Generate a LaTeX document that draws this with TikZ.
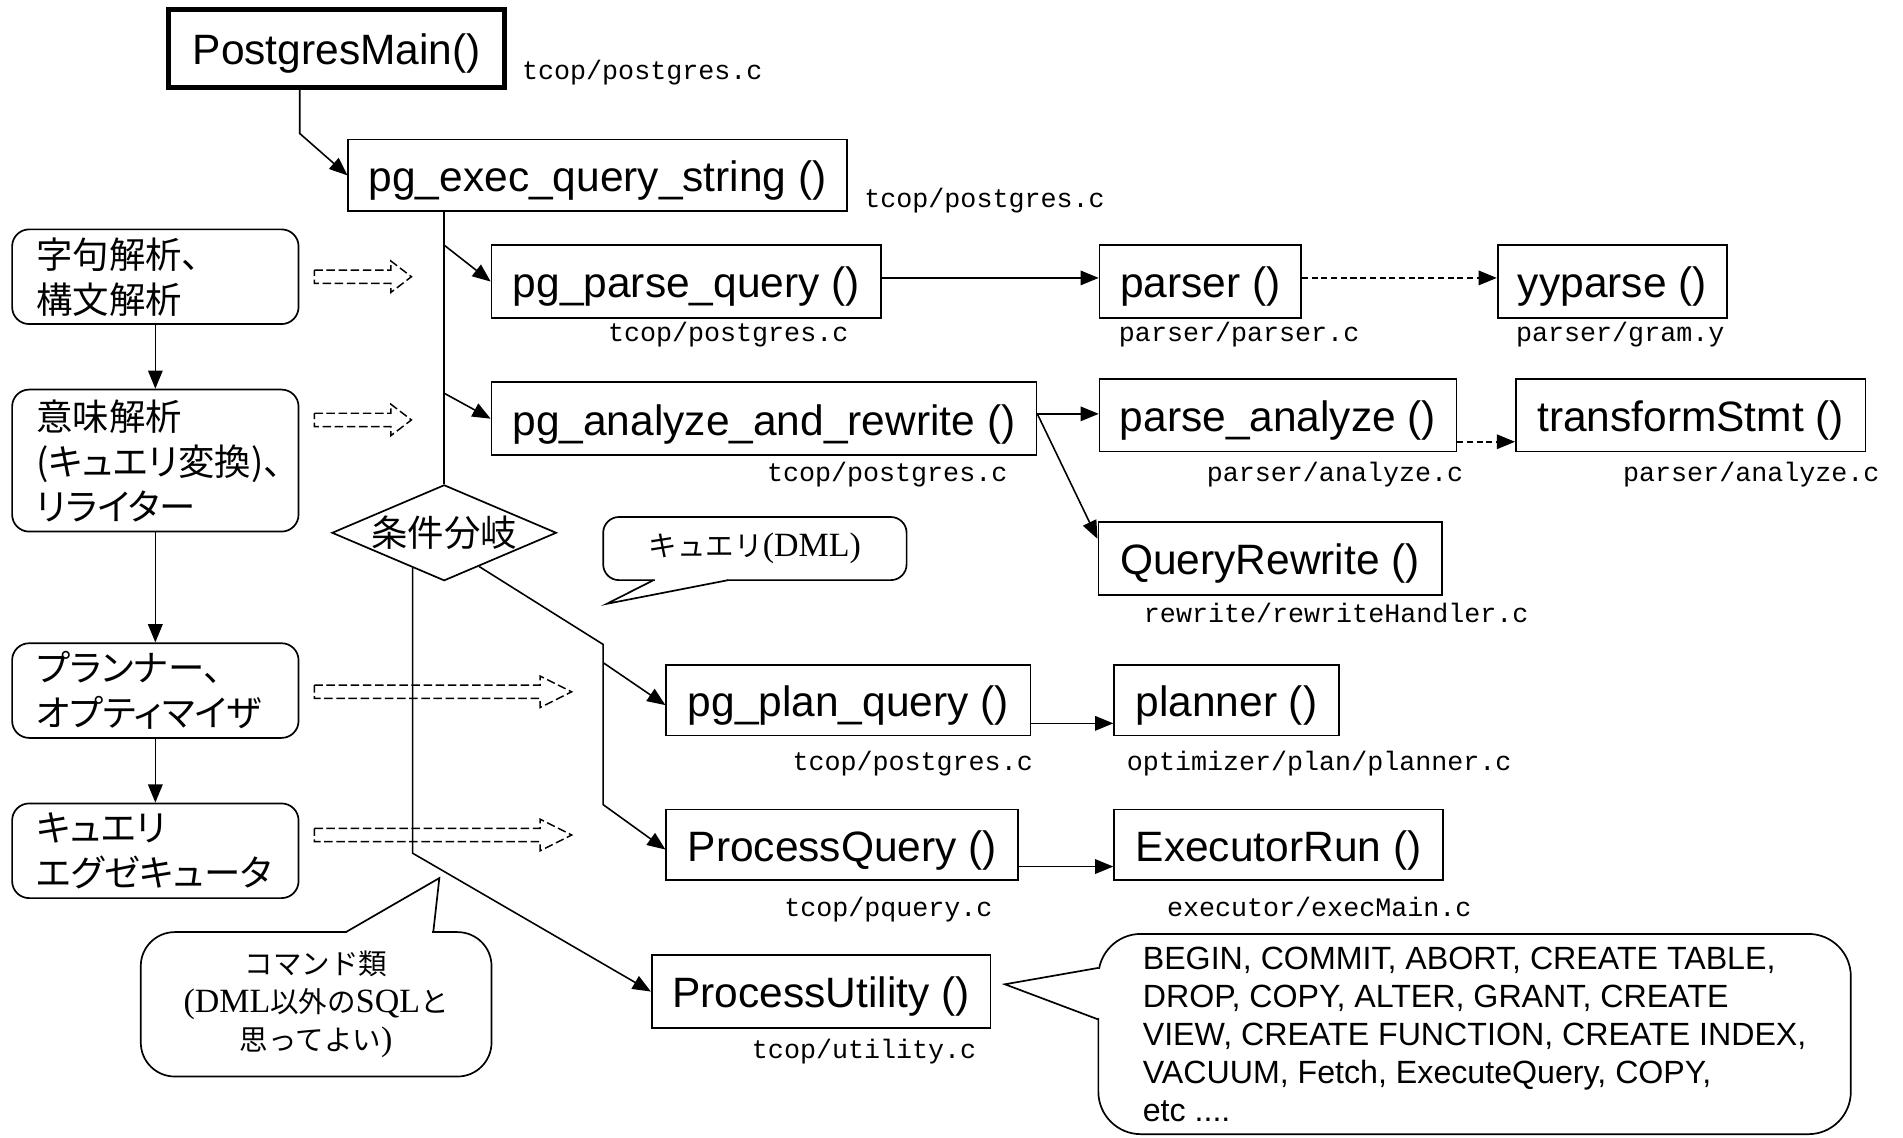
\documentclass[tikz,border=0pt]{standalone}
\usepackage{fontspec}
\setmainfont{Liberation Sans}
\newfontfamily\jpfont[RawFeature=+palt]{Noto Sans CJK JP}
\newfontfamily\jpplain{Noto Sans CJK JP}
\newfontfamily\monofont{Liberation Mono}
\newfontfamily\seriffont{Liberation Serif}
\usetikzlibrary{arrows.meta,shapes.geometric,calc}
\newcommand\jps[1]{{\jpplain\fontsize{23.5}{32}\selectfont #1}}
\newcommand\srf[1]{{\seriffont\fontsize{28}{32}\selectfont #1}}
\newcommand\hollowarr[4]{%
  \draw[hollowline] (#2,#1-5.5) -- (#3,#1-5.5) -- (#3,#1-13) -- (#4,#1) -- (#3,#1+13) -- (#3,#1+5.5) -- (#2,#1+5.5) -- cycle;}
\tikzset{
  fnbox/.style={draw, line width=1.4pt, inner sep=0pt, font=\fontsize{35}{40}\selectfont, text height=31pt, text depth=4pt, minimum height=60pt},
  filelab/.style={inner sep=0pt, font=\monofont\fontsize{22}{26}\selectfont, text height=16pt, text depth=4.5pt},
  stagebox/.style={draw, line width=1.4pt, rounded corners=14pt, inner xsep=20pt, inner ysep=0pt, text width=196pt, align=left, minimum width=236pt, font=\jpfont\fontsize{30}{37}\selectfont},
  conn/.style={line width=1.3pt, -{Triangle[length=15pt,width=12pt]}},
  plainline/.style={line width=1.3pt},
  dotconn/.style={conn, dash pattern=on 5pt off 3pt},
  hollowline/.style={line width=1.2pt, dash pattern=on 7pt off 3pt},
  bubble/.style={draw, line width=1.4pt, inner sep=0pt},
  tailline/.style={line width=1.4pt, line join=miter},
}
\begin{document}
\begin{tikzpicture}[x=1pt,y=-1pt]
\useasboundingbox (0,0) rectangle (1568,937);

% main call chain
\node[fnbox, line width=4pt, minimum width=277pt, minimum height=64pt] (pm) at (277.5,40) {PostgresMain()};
\node[filelab, anchor=west] (pmf) at (430,60) {tcop/postgres.c};
\node[fnbox, minimum width=411pt, minimum height=59pt] (peq) at (492.5,144.5) {pg\_exec\_query\_string ()};
\node[filelab, anchor=west] (peqf) at (712,165) {tcop/postgres.c};

\node[fnbox, minimum width=321pt] (ppq) at (565.5,232) {pg\_parse\_query ()};
\node[filelab] (ppqf) at (600,276) {tcop/postgres.c};
\node[fnbox, minimum width=166pt] (par) at (989,232) {parser ()};
\node[filelab] (parf) at (1021,276) {parser/parser.c};
\node[fnbox, minimum width=189pt] (yy) at (1328.5,232) {yyparse ()};
\node[filelab] (yyf) at (1335,276) {parser/gram.y};

\node[fnbox, minimum width=449pt] (paar) at (629.5,345) {pg\_analyze\_and\_rewrite ()};
\node[filelab] (paarf) at (731,391) {tcop/postgres.c};
\node[fnbox, minimum width=294pt] (pa) at (1053,342) {parse\_analyze ()};
\node[filelab] (paf) at (1100,391) {parser/analyze.c};
\node[fnbox, minimum width=288pt] (ts) at (1393,342) {transformStmt ()};
\node[filelab] (tsf) at (1443,391) {parser/analyze.c};
\node[fnbox, minimum width=283pt] (qr) at (1046.5,460) {QueryRewrite ()};
\node[filelab] (qrf) at (1101,507) {rewrite/rewriteHandler.c};

\node[fnbox, minimum width=300pt, minimum height=58pt] (pplq) at (699,577) {pg\_plan\_query ()};
\node[filelab] (pplqf) at (752,629) {tcop/postgres.c};
\node[fnbox, minimum width=185pt, minimum height=58pt] (pl) at (1010.5,577) {planner ()};
\node[filelab] (plf) at (1087,629) {optimizer/plan/planner.c};

\node[fnbox, minimum width=290pt, minimum height=58pt] (pq) at (694,696) {ProcessQuery ()};
\node[filelab] (pqf) at (732,749) {tcop/pquery.c};
\node[fnbox, minimum width=271pt, minimum height=58pt] (er) at (1053.5,696) {ExecutorRun ()};
\node[filelab] (erf) at (1087,749) {executor/execMain.c};

\node[fnbox, minimum width=279pt] (pu) at (676.5,817) {ProcessUtility ()};
\node[filelab] (puf) at (712,866) {tcop/utility.c};

% stages
\node[stagebox, minimum height=78pt] (sA) at (128,228) {\raisebox{-3pt}{字句解析、}\\\raisebox{-3pt}{構文解析}};
\node[stagebox, minimum height=117pt] (sB) at (128,379.5) {意味解析\\(キュエリ変換)、\\リライター};
\node[stagebox, minimum height=78pt] (sC) at (128,569) {プランナー、\\オプティマイザ};
\node[stagebox, minimum height=78pt] (sD) at (128,701) {キュエリ\\エグゼキュータ};
\draw[conn] (sA) -- (sB);
\draw[conn] (sB) -- (sC);
\draw[conn] (sC) -- (sD);

\hollowarr{228}{259}{322}{339}
\hollowarr{346}{259}{322}{339}
\hollowarr{570}{259}{445}{471}
\hollowarr{688}{259}{445}{471}

% diamond
\node[draw, diamond, line width=1.4pt, minimum width=185pt, minimum height=79pt, inner sep=0pt, font=\jpplain\fontsize{30}{36}\selectfont] (dia) at (366,439) {\makebox[0pt]{条件分岐}};

% connectors
\coordinate (b1) at (247,110);
\draw[conn] (pm.south -| b1) -- (b1) -- (peq.west);
\coordinate (tA) at (366,202);
\coordinate (tB) at (366,324);
\draw[plainline] (peq.south -| tA) -- (dia.north);
\draw[conn] (tA) -- (ppq.west);
\draw[conn] (tB) -- (paar.west);
\draw[conn] ($(ppq.east)+(0,-3)$) -- ($(par.west)+(0,-3)$);
\draw[dotconn] ($(par.east)+(0,-3)$) -- ($(yy.west)+(0,-3)$);
\draw[conn] ($(paar.east)+(0,-4)$) -- ($(pa.west)+(0,-1)$);
\draw[conn] ($(paar.east)+(0,-4)$) -- ($(qr.west)+(0,-16)$);
\draw[dotconn] ($(pa.east)+(0,22)$) -- ($(ts.west)+(0,22)$);
\draw[conn] ($(pplq.east)+(0,19)$) -- ($(pl.west)+(0,19)$);
\draw[conn] ($(pq.east)+(0,18)$) -- ($(er.west)+(0,18)$);

\coordinate (c1) at (340,703);
\draw[conn] (c1 |- dia.228) -- (c1) -- (pu.west);
\coordinate (c2) at (497,531);
\coordinate (c3) at (497,546);
\coordinate (c4) at (497,663);
\draw[conn] (dia.316) -- (c2) -- (c4) -- ($(pq.west)+(0,4)$);
\draw[conn] (c3) -- ($(pplq.west)+(0,4)$);

% callouts
\node[bubble, rounded corners=13pt, minimum width=250pt, minimum height=52pt] (qc) at (622,452) {\jps{キュエリ}\srf{(DML)}};
\fill[white] (539.3,476.2) rectangle (599.4,479.8);
\draw[tailline] (538.5,478) -- (500,497.5) -- (600,478);

\node[bubble, rounded corners=28pt, minimum width=289pt, minimum height=119pt, align=center, font=\fontsize{28}{31}\selectfont] (cc) at (260.5,827.5) {\jps{コマンド類}\\\srf{(DML}\jps{以外の}\srf{SQL}\jps{と}\\\jps{思ってよい}\srf{)}};
\fill[white] (286,766.2) rectangle (356,769.8);
\draw[tailline] (285,768) -- (362,723.5) -- (357,768);

\node[bubble, rounded corners=35pt, minimum width=620pt, minimum height=165pt, align=left, inner ysep=0pt, text depth=-3pt, font=\fontsize{26.5}{31.3}\selectfont] (bc) at (1215,852) {BEGIN, COMMIT, ABORT, CREATE TABLE,\\DROP, COPY, ALTER, GRANT, CREATE\\VIEW, CREATE FUNCTION, CREATE INDEX,\\VACUUM, Fetch, ExecuteQuery, COPY,\\etc ....};
\fill[white] (903.2,798.8) rectangle (906.8,838.8);
\draw[tailline] (905,797.5) -- (828,811) -- (905,840);
\end{tikzpicture}
\end{document}
